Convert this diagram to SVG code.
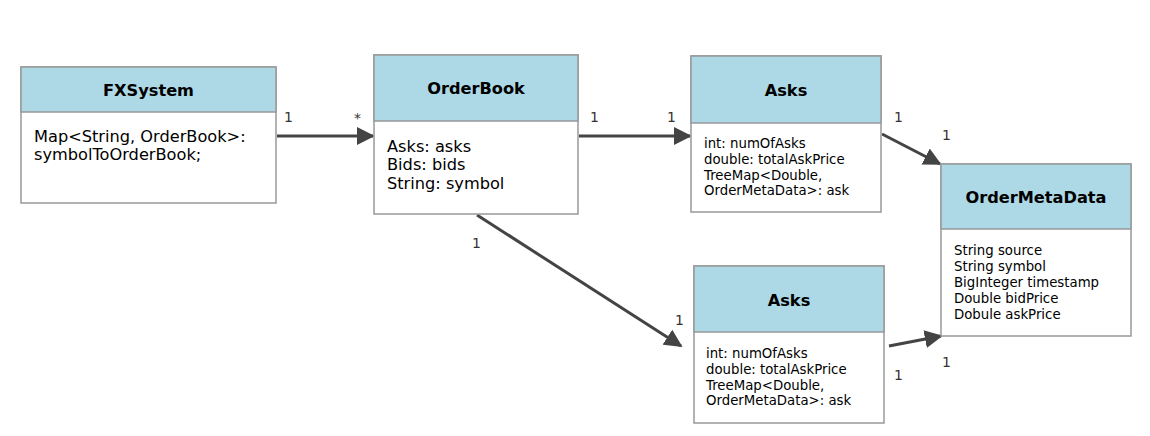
<svg xmlns="http://www.w3.org/2000/svg" width="1150" height="436" viewBox="0 0 1150 436">
<defs>
<style>
.box{fill:#fff;stroke:#999;stroke-width:1.5}
.hdr{fill:#add8e6;stroke:#999;stroke-width:1.5}
.title{font-family:"DejaVu Sans",Verdana,sans-serif;font-weight:bold;font-size:16.2px;fill:#000;text-anchor:middle}
.big{font-family:"DejaVu Sans",Verdana,sans-serif;font-size:16.2px;fill:#000}
.small{font-family:"DejaVu Sans",Verdana,sans-serif;font-size:13.3px;fill:#000}
.lbl{font-family:"DejaVu Sans",Verdana,sans-serif;font-size:14px;fill:#333}
.edge{stroke:#444;stroke-width:3;fill:none;marker-end:url(#arr)}
</style>
<marker id="arr" viewBox="0 0 10 10" refX="9" refY="5" markerWidth="6" markerHeight="6" markerUnits="strokeWidth" orient="auto">
<path d="M0,0 L10,5 L0,10 z" fill="#444"/>
</marker>
</defs>
<rect width="1150" height="436" fill="#fff"/>
<g id="connectors">
<line class="edge" x1="277" y1="136" x2="373" y2="136"/>
<line class="edge" x1="579" y1="136" x2="690" y2="136"/>
<line class="edge" x1="882" y1="134" x2="940" y2="164"/>
<line class="edge" x1="477" y1="215" x2="681" y2="346"/>
<line class="edge" x1="889" y1="346" x2="941" y2="336"/>
<text class="lbl" x="284" y="122">1</text>
<text class="lbl" x="354" y="123">*</text>
<text class="lbl" x="590" y="122">1</text>
<text class="lbl" x="667" y="122">1</text>
<text class="lbl" x="894" y="122">1</text>
<text class="lbl" x="942" y="140">1</text>
<text class="lbl" x="472" y="248">1</text>
<text class="lbl" x="675" y="325">1</text>
<text class="lbl" x="894" y="380">1</text>
<text class="lbl" x="942" y="367">1</text>
</g>
<g id="FXSystem">
<rect class="box" x="21" y="67" width="255" height="136"/>
<rect class="hdr" x="21" y="67" width="255" height="45"/>
<text class="title" x="148.5" y="96">FXSystem</text>
<text class="big" x="34" y="142">Map&lt;String, OrderBook&gt;:</text>
<text class="big" x="34" y="160">symbolToOrderBook;</text>
</g>
<g id="OrderBook">
<rect class="box" x="374" y="55" width="204" height="159"/>
<rect class="hdr" x="374" y="55" width="204" height="66"/>
<text class="title" x="476" y="94">OrderBook</text>
<text class="big" x="387" y="152">Asks: asks</text>
<text class="big" x="387" y="170">Bids: bids</text>
<text class="big" x="387" y="189">String: symbol</text>
</g>
<g id="Asks1">
<rect class="box" x="691" y="56" width="190" height="156"/>
<rect class="hdr" x="691" y="56" width="190" height="67"/>
<text class="title" x="786" y="96">Asks</text>
<text class="small" x="704" y="148">int: numOfAsks</text>
<text class="small" x="704" y="164">double: totalAskPrice</text>
<text class="small" x="704" y="180">TreeMap&lt;Double,</text>
<text class="small" x="704" y="195">OrderMetaData&gt;: ask</text>
</g>
<g id="OrderMetaData">
<rect class="box" x="941" y="164" width="190" height="172"/>
<rect class="hdr" x="941" y="164" width="190" height="65"/>
<text class="title" x="1036" y="203">OrderMetaData</text>
<text class="small" x="954" y="255">String source</text>
<text class="small" x="954" y="271">String symbol</text>
<text class="small" x="954" y="287">BigInteger timestamp</text>
<text class="small" x="954" y="303">Double bidPrice</text>
<text class="small" x="954" y="319">Dobule askPrice</text>
</g>
<g id="Asks2">
<rect class="box" x="694" y="266" width="190" height="157"/>
<rect class="hdr" x="694" y="266" width="190" height="66"/>
<text class="title" x="789" y="306">Asks</text>
<text class="small" x="706" y="358">int: numOfAsks</text>
<text class="small" x="706" y="374">double: totalAskPrice</text>
<text class="small" x="706" y="390">TreeMap&lt;Double,</text>
<text class="small" x="706" y="405">OrderMetaData&gt;: ask</text>
</g>
</svg>
